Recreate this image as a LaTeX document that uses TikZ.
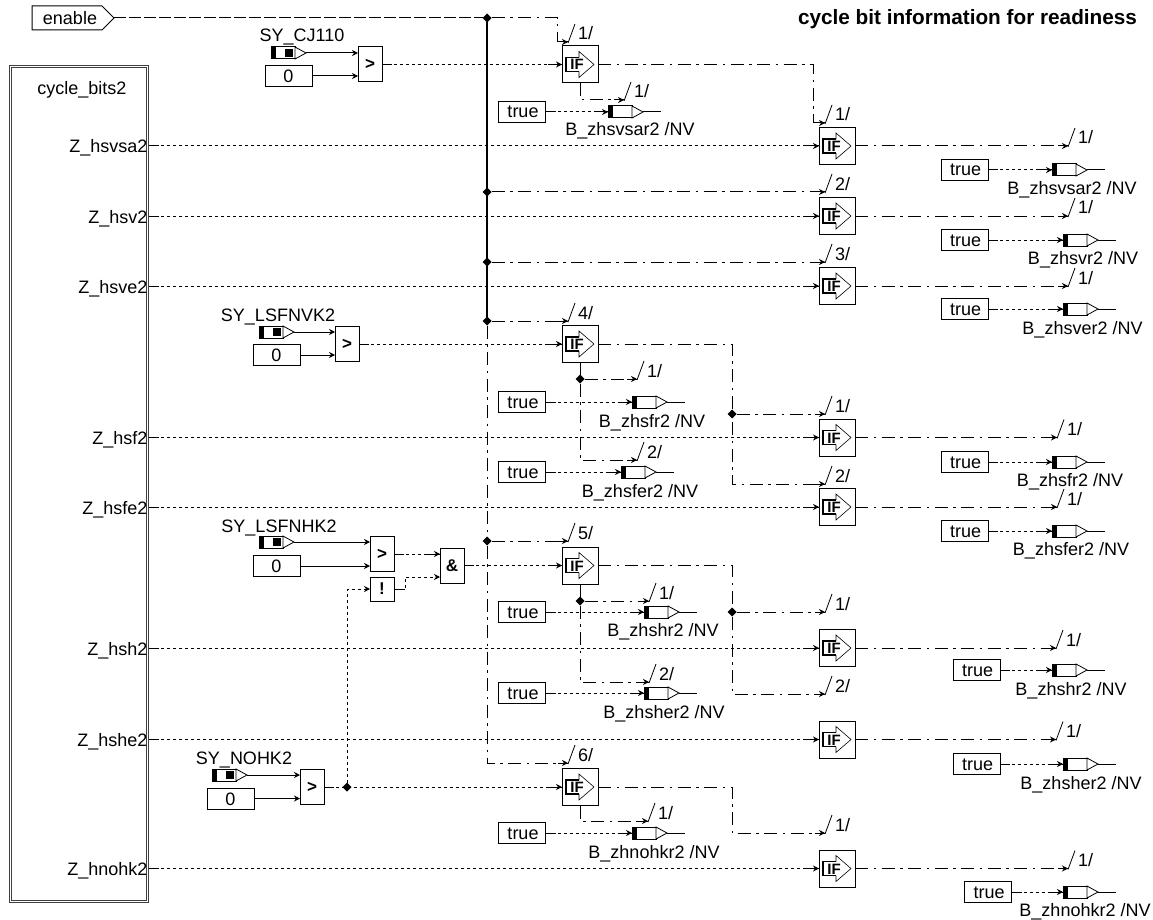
\documentclass[tikz,border=0pt]{standalone}
\usepackage{fontspec}
\setmainfont{Liberation Sans}
\usetikzlibrary{arrows.meta,calc,shapes.geometric}
\tikzset{
  every node/.style={font=\fontsize{18}{20}\selectfont,inner sep=0pt,outer sep=0pt},
  tipa/.style={-{Stealth[length=6pt,width=6pt]}},
  sg/.style={line width=1pt,dash pattern=on 3pt off 3pt},
  ct/.style={line width=1pt,dash pattern=on 13pt off 5.5pt on 2.5pt off 5.5pt},
  solidw/.style={line width=1pt},
  ifbox/.style={draw,line width=1pt,fill=white,minimum width=36pt,minimum height=37pt},
  gatebox/.style={draw,line width=1pt,fill=white,minimum width=24pt,minimum height=35pt,font=\fontsize{17}{20}\selectfont\bfseries},
  valbox/.style={draw,line width=1pt,fill=white,minimum width=47pt,minimum height=21pt},
  varbody/.style={draw,line width=1pt,fill=white,minimum width=24pt,minimum height=12pt},
  txt/.style={anchor=base},
  dot/.style={diamond,fill=black,minimum width=9pt,minimum height=9pt},
}
\newcommand\ifb[3]{%
  \node[ifbox] (#1) at (#2,#3) {};
  \begin{scope}[shift={(#2,#3)}]
    \draw[line width=1.4pt] (-1,-7) -- (-14,-7) -- (-14,7) -- (-1,7);
    \draw[line width=.6pt] (-1,-7) -- (-1,-13) -- (14,0) -- (-1,13) -- (-1,7);
    \node[font=\fontsize{15}{16}\selectfont\bfseries,anchor=base] (#1-t) at (-3,5.5) {IF};
  \end{scope}}
\newcommand\varicon[3]{%
  \node[varbody] (#1) at (#2+12,#3) {};
  \fill (#2,#3-6) rectangle (#2+5,#3+6);
  \draw[line width=.8pt,fill=white] (#2+24,#3-6) -- (#2+35,#3) -- (#2+24,#3+6) -- cycle;
  \coordinate (#1-tip) at (#2+35,#3);}
% input variable: name x y label-x label-y text
\newcommand\varin[6]{%
  \varicon{#1}{#2}{#3}
  \fill (#2+14,#3-4) rectangle (#2+22,#3+4);
  \node[txt] (#1-l) at (#4,#5+7) {#6};}
% arrow end with the slash mark: name x y label
\newcommand\busend[4]{%
  \coordinate (#1) at (#2,#3);
  \draw[line width=.8pt] (#2,#3+1) -- (#2+7,#3-18);
  \draw[solidw] (#2-10,#3) -- (#2,#3);
  \node[txt] (#1-l) at (#2+17.5,#3-2) {#4};}
\newcommand\sgw[2]{%
  \draw[sg,tipa] (#1) -- (#2);
  \draw[solidw] (#1) -- ($(#1)!10pt!(#2)$);
  \draw[solidw] ($(#2)!14pt!(#1)$) -- (#2);}
\newcommand\ctw[2]{\draw[ct,tipa] (#1) -- (#2);}
% constant true + output variable: id truex y varx labelx labely text
\newcommand\trueout[7]{%
  \node[valbox] (#1-k) at (#2,#3) {};
  \node[txt] (#1-kt) at (#2+1,#3+6) {true};
  \varicon{#1}{#4}{#3}
  \node (#1-e) at (#4+53,#3) {};
  \draw[solidw] (#1-tip) -- (#1-e);
  \node[txt] (#1-l) at (#5,#6+7) {#7};
  \sgw{#1-k.east}{#1.west}}
% id text y target
\newcommand\zwire[4]{%
  \node[anchor=base east] (#1) at (147.5,#3+7) {#2};
  \coordinate (#1-o) at (149,#3);
  \sgw{#1-o}{#4.west}}
\newcommand\constz[4]{%
  \node[valbox] (#1) at (#2,#3) {};
  \node[txt] (#1-t) at (#2,#3+6.5) {0};
  \draw[solidw,tipa] (#1.east) -- (#1.east -| #4.west);}
\begin{document}
\begin{tikzpicture}[x=1pt,y=-1pt]
\useasboundingbox (0,0) rectangle (1153,920);
% title
\node[anchor=base east,font=\fontsize{20.75}{22}\selectfont\bfseries] (title) at (1137,25) {cycle bit information for readiness};
% enable
\draw[line width=1pt] (32,6) -- (102,6) -- (114,18) -- (102,30) -- (32,30) -- cycle;
\coordinate (enT) at (114,18);
\node[txt] (enable) at (70,24.5) {enable};
% block
\node[draw=black!75,double,line width=1.1pt,double distance=1.2pt,minimum width=137pt,minimum height=835pt] (blk) at (79,484) {};
\node[txt] (blkname) at (82,95) {cycle\_bits2};
% IF blocks
\ifb{if1}{580}{64.5}
\ifb{if4}{580}{344}
\ifb{if5}{580}{565.5}
\ifb{if6}{580}{787}
\ifb{a1}{837}{146}
\ifb{a2}{837}{216}
\ifb{a3}{837}{286}
\ifb{a4}{837}{437.5}
\ifb{a5}{837}{507}
\ifb{a6}{837}{648}
\ifb{a7}{837}{739.5}
\ifb{a8}{837}{868.5}
% gates
\node[gatebox] (g1) at (370,64.5) {>};
\node[gatebox] (g2) at (347,344) {>};
\node[gatebox] (g3) at (382,554) {>};
\node[gatebox] (g4) at (312,787) {>};
\node[gatebox] (gand) at (452,565.5) {\&};
\node[gatebox,minimum height=24pt] (gnot) at (382,589) {!};
% inputs
\varin{v1}{271}{53}{302}{35}{SY\_CJ110}
\varin{v2}{259}{332}{278}{314}{SY\_LSFNVK2}
\varin{v3}{259}{542}{279}{525}{SY\_LSFNHK2}
\varin{v4}{212}{775}{244}{757}{SY\_NOHK2}
\draw[solidw,tipa] (v1-tip) -- (v1-tip -| g1.west);
\draw[solidw,tipa] (v2-tip) -- (v2-tip -| g2.west);
\draw[solidw,tipa] (v3-tip) -- (v3-tip -| g3.west);
\draw[solidw,tipa] (v4-tip) -- (v4-tip -| g4.west);
\constz{k1}{288.5}{76}{g1}
\constz{k2}{276.5}{355}{g2}
\constz{k3}{276.5}{566}{g3}
\constz{k4}{230.5}{798.5}{g4}
% junctions
\node[dot] (j0) at (487,18) {};
\node[dot] (j1) at (487,192) {};
\node[dot] (j2) at (487,262) {};
\node[dot] (j3) at (487,321) {};
\node[dot] (j4) at (487,541) {};
\node[dot] (j5) at (580,379) {};
\node[dot] (j6) at (732,414) {};
\node[dot] (j7) at (580,601) {};
\node[dot] (j8) at (732,612) {};
\node[dot] (jn) at (347,787) {};
% slash marks
\busend{b1}{568}{42}{1/}
\busend{b2}{825}{123}{1/}
\busend{b3}{825}{192}{2/}
\busend{b4}{825}{262}{3/}
\busend{b5}{568}{321}{4/}
\busend{b6}{568}{541}{5/}
\busend{b7}{568}{763}{6/}
\busend{b8}{624}{100}{1/}
\busend{b9}{637}{379}{1/}
\busend{b10}{637}{460}{2/}
\busend{b11}{825}{414}{1/}
\busend{b12}{825}{484}{2/}
\busend{b13}{649}{601}{1/}
\busend{b14}{649}{682}{2/}
\busend{b15}{825}{612}{1/}
\busend{b16}{825}{694}{2/}
\busend{b17}{648}{821}{1/}
\busend{b18}{825}{833}{1/}
\busend{o1}{1068}{146}{1/}
\busend{o2}{1068}{216}{1/}
\busend{o3}{1068}{286}{1/}
\busend{o4}{1057}{437.5}{1/}
\busend{o5}{1057}{507}{1/}
\busend{o6}{1056}{648}{1/}
\busend{o7}{1056}{739.5}{1/}
\busend{o8}{1068}{868.5}{1/}
% enable distribution
\draw[line width=1pt,dash pattern=on 12pt off 3pt] (enT) -- (j0);
\draw[line width=1.3pt] (j0) -- (j3);
\coordinate (c1) at (557,42);
\draw[ct,tipa] (j0) -| (c1) -- (b1);
\ctw{j1}{b3}
\ctw{j2}{b4}
\ctw{j3}{b5}
\ctw{j4}{b6}
\draw[ct] (j3) -- (j4);
\draw[ct,tipa] (j4) |- (b7);
% gate outputs to IF blocks
\sgw{g1.east}{if1.west}
\sgw{g2.east}{if4.west}
\sgw{g3.east}{g3.east -| gand.west}
\sgw{gand.east}{if5.west}
\sgw{g4.east}{if6.west}
\coordinate (n1) at (405,577);
\draw[sg,tipa] (gnot.east) -| (n1) -- (n1 -| gand.west);
\draw[solidw] (gnot.east) -- ++(11,0);
\draw[sg,tipa] (jn) |- (gnot.west);
% IF block chains
\coordinate (c2) at (813,123);
\draw[ct,tipa] (if1.east) -| (c2) -- (b2);
\draw[ct,tipa] (if1.south) |- (b8);
\draw[solidw] (if4.south) -- (j5);
\ctw{j5}{b9}
\draw[ct,tipa] (j5) |- (b10);
\coordinate (c3) at (732,484);
\draw[ct,tipa] (if4.east) -| (c3) -- (b12);
\ctw{j6}{b11}
\draw[solidw] (if5.south) -- (j7);
\ctw{j7}{b13}
\draw[ct,tipa] (j7) |- (b14);
\coordinate (c4) at (732,694);
\draw[ct,tipa] (if5.east) -| (c4) -- (b16);
\ctw{j8}{b15}
\draw[ct,tipa] (if6.south) |- (b17);
\coordinate (c5) at (732,833);
\draw[ct,tipa] (if6.east) -| (c5) -- (b18);
\ctw{a1.east}{o1}
\ctw{a2.east}{o2}
\ctw{a3.east}{o3}
\ctw{a4.east}{o4}
\ctw{a5.east}{o5}
\ctw{a6.east}{o6}
\ctw{a7.east}{o7}
\ctw{a8.east}{o8}
% cycle bits
\zwire{z1}{Z\_hsvsa2}{146}{a1}
\zwire{z2}{Z\_hsv2}{216}{a2}
\zwire{z3}{Z\_hsve2}{286}{a3}
\zwire{z4}{Z\_hsf2}{437.5}{a4}
\zwire{z5}{Z\_hsfe2}{507}{a5}
\zwire{z6}{Z\_hsh2}{648}{a6}
\zwire{z7}{Z\_hshe2}{739.5}{a7}
\zwire{z8}{Z\_hnohk2}{868.5}{a8}
% true constants and output variables
\trueout{t1}{522}{112}{608}{630}{129}{B\_zhsvsar2 /NV}
\trueout{t2}{522}{402}{632}{652}{420}{B\_zhsfr2 /NV}
\trueout{t3}{522}{472}{621}{640}{490}{B\_zhsfer2 /NV}
\trueout{t4}{522}{612}{644}{663}{629}{B\_zhshr2 /NV}
\trueout{t5}{522}{693}{644}{664}{711}{B\_zhsher2 /NV}
\trueout{t6}{522}{833}{632}{654}{851}{B\_zhnohkr2 /NV}
\trueout{r1}{964.5}{170}{1052}{1072}{188}{B\_zhsvsar2 /NV}
\trueout{r2}{964.5}{240}{1063}{1083}{257}{B\_zhsvr2 /NV}
\trueout{r3}{964.5}{309}{1063}{1082.5}{327}{B\_zhsver2 /NV}
\trueout{r4}{964.5}{462}{1052}{1070}{479}{B\_zhsfr2 /NV}
\trueout{r5}{964.5}{531}{1052}{1071}{548}{B\_zhsfer2 /NV}
\trueout{r6}{976.5}{670}{1052}{1071}{688}{B\_zhshr2 /NV}
\trueout{r7}{976.5}{764}{1063}{1081}{782}{B\_zhsher2 /NV}
\trueout{r8}{988}{892}{1063}{1085}{909}{B\_zhnohkr2 /NV}
\end{tikzpicture}
\end{document}
